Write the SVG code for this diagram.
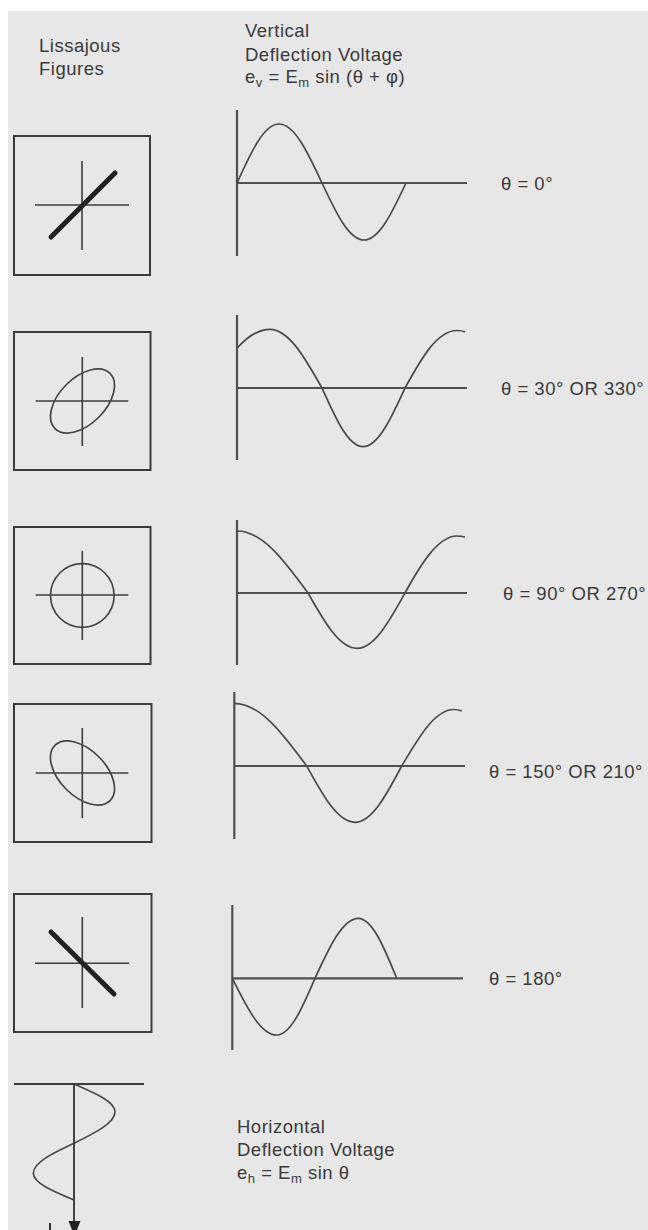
<svg xmlns="http://www.w3.org/2000/svg" width="648" height="1230" viewBox="0 0 648 1230">
<style>
.bg{fill:#e7e7e8}
.box{fill:none;stroke:#3c3c3c;stroke-width:2}
.cross{stroke:#3c3c3c;stroke-width:1.6}
.fig{fill:none;stroke:#444;stroke-width:1.7}
.bar{stroke:#222;stroke-width:5;stroke-linecap:round}
.axis{stroke:#505050;stroke-width:2.2}
.wave{fill:none;stroke:#4a4a4a;stroke-width:1.7}
.t{font-family:"Liberation Sans",Arial,Helvetica,sans-serif;font-size:18.5px;letter-spacing:0.5px;fill:#3a3a3a}
.sub{font-size:13px}
</style>
<rect width="648" height="1230" fill="#ffffff"/>
<rect class="bg" x="8" y="11" width="640" height="1219"/>

<g id="header">
  <text class="t" x="39" y="52">Lissajous</text>
  <text class="t" x="39" y="75">Figures</text>
  <text class="t" x="245" y="37">Vertical</text>
  <text class="t" x="245" y="61">Deflection Voltage</text>
  <text class="t" x="245" y="83">e<tspan class="sub" dy="4">v</tspan><tspan dy="-4"> = E</tspan><tspan class="sub" dy="4">m</tspan><tspan dy="-4"> sin (θ + φ)</tspan></text>
</g>

<!-- Row 1 -->
<g id="fig1">
  <rect class="box" x="14" y="136" width="136" height="139"/>
  <line class="cross" x1="82" y1="161" x2="82" y2="250"/>
  <line class="cross" x1="35" y1="205" x2="129" y2="205"/>
  <line class="bar" x1="51" y1="237" x2="115" y2="173"/>
</g>
<g id="wave1">
  <line class="axis" x1="237" y1="110" x2="237" y2="256"/>
  <line class="axis" x1="237" y1="183" x2="467" y2="183"/>
  <path class="wave" d="M237,183 C250.7,152.8 263.8,124 279,124 C294.6,124 308,152.8 322,183 C335.7,212.2 348.8,240 364,240 C379.2,240 392.3,212.2 406,183"/>
  <text class="t" x="501" y="190">θ = 0°</text>
</g>

<!-- Row 2 -->
<g id="fig2">
  <rect class="box" x="14" y="332" width="136.5" height="138"/>
  <line class="cross" x1="82.3" y1="357" x2="82.3" y2="446"/>
  <line class="cross" x1="35.7" y1="401" x2="128.3" y2="401"/>
  <ellipse class="fig" cx="82.5" cy="401" rx="39" ry="23" transform="rotate(-45 82.5 401)"/>
</g>
<g id="wave2">
  <line class="axis" x1="237" y1="315" x2="237" y2="460"/>
  <line class="axis" x1="237" y1="388" x2="467" y2="388"/>
  <path class="wave" d="M237,348.3 C247,337 258,329.3 270,329.3 C288.8,329.3 305,357.9 322,388 C335.4,417.9 348.2,446.7 363,446.7 C378.2,446.7 391.3,417.9 405,388 C421,359 437,330.5 457,330.5 C460,330.5 463,331 465,332"/>
  <text class="t" x="501" y="395">θ = 30° OR 330°</text>
</g>

<!-- Row 3 -->
<g id="fig3">
  <rect class="box" x="14" y="527" width="136.5" height="137"/>
  <line class="cross" x1="82.3" y1="551" x2="82.3" y2="640"/>
  <line class="cross" x1="35.7" y1="595" x2="128.3" y2="595"/>
  <circle class="fig" cx="82.3" cy="595.5" r="31.8"/>
</g>
<g id="wave3">
  <line class="axis" x1="237" y1="520" x2="237" y2="665"/>
  <line class="axis" x1="237" y1="593" x2="467" y2="593"/>
  <path class="wave" d="M237,531 C262.7,531 284.8,561.2 308,593 C324,621.3 339.3,648.3 357,648.3 C374.4,648.3 389.3,621.3 405,593 C421,564 438,536 457,536 C460,536 463,536.5 465,537"/>
  <text class="t" x="503" y="600">θ = 90° OR 270°</text>
</g>

<!-- Row 4 -->
<g id="fig4">
  <rect class="box" x="14" y="704" width="137.5" height="138"/>
  <line class="cross" x1="82.3" y1="728" x2="82.3" y2="818"/>
  <line class="cross" x1="35.7" y1="773" x2="128.3" y2="773"/>
  <ellipse class="fig" cx="82.5" cy="773" rx="39" ry="23" transform="rotate(45 82.5 773)"/>
</g>
<g id="wave4">
  <line class="axis" x1="234.3" y1="692" x2="234.3" y2="839"/>
  <line class="axis" x1="234" y1="766" x2="465" y2="766"/>
  <path class="wave" d="M234,703.3 C260.3,703.3 283,733.9 306.7,766 C322.5,794.8 337.5,822.3 355,822.3 C371.9,822.3 386.5,794.8 401.7,766 C418.7,737.2 434.9,709.5 453.7,709.5 C457,709.5 459.5,710 461.7,711"/>
  <text class="t" x="489" y="778">θ = 150° OR 210°</text>
</g>

<!-- Row 5 -->
<g id="fig5">
  <rect class="box" x="14" y="894" width="137.5" height="138"/>
  <line class="cross" x1="82.3" y1="917" x2="82.3" y2="1008"/>
  <line class="cross" x1="35" y1="963.3" x2="129" y2="963.3"/>
  <line class="bar" x1="51" y1="932" x2="114" y2="994"/>
</g>
<g id="wave5">
  <line class="axis" x1="232.3" y1="905" x2="232.3" y2="1050"/>
  <line class="axis" x1="232" y1="978.3" x2="463" y2="978.3"/>
  <path class="wave" d="M232.3,978.3 C246.8,1007.3 260.6,1035 276.7,1035 C290.6,1035 302.5,1007.3 315,978.3 C329.1,947.6 342.6,918.3 358.3,918.3 C372.2,918.3 384.2,947.6 396.7,978.3"/>
  <text class="t" x="489" y="985">θ = 180°</text>
</g>

<!-- Horizontal deflection -->
<g id="hdeflection">
  <line class="axis" x1="14" y1="1084" x2="144" y2="1084" style="stroke:#3c3c3c;stroke-width:2"/>
  <path class="wave" d="M74,1084 C95,1093 115,1101.7 115,1111.7 C115,1123.1 95,1133 74,1143.3 C53,1153.1 33.3,1162.4 33.3,1173.3 C33.3,1183 53,1191.3 74,1200"/>
  <line x1="50" y1="1223" x2="50" y2="1230" stroke="#333" stroke-width="2"/>
  <text class="t" x="237" y="1133">Horizontal</text>
  <text class="t" x="237" y="1156">Deflection Voltage</text>
  <text class="t" x="237" y="1179">e<tspan class="sub" dy="4">h</tspan><tspan dy="-4"> = E</tspan><tspan class="sub" dy="4">m</tspan><tspan dy="-4"> sin θ</tspan></text>
</g>

<g id="connectors">
  <line x1="74" y1="1084" x2="74" y2="1224" stroke="#333" stroke-width="1.8"/>
  <polygon points="68.5,1221 80.5,1221 74.5,1236" fill="#222"/>
</g>
</svg>
